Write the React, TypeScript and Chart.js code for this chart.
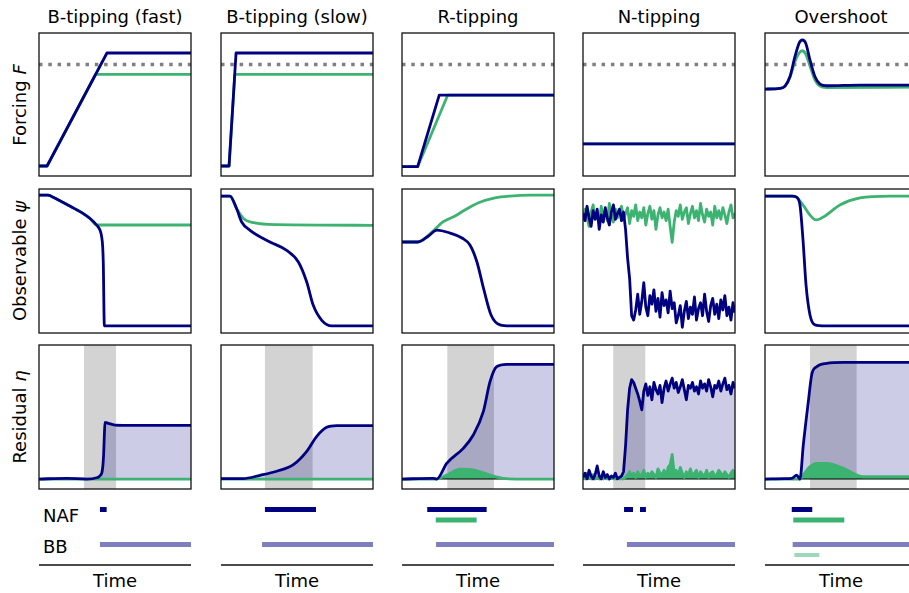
import React, { useEffect, useRef } from 'react';
import { Chart, registerables } from 'chart.js';
Chart.register(...registerables);

// ---------- DATA ----------
const titles = ['B-tipping (fast)', 'B-tipping (slow)', 'R-tipping', 'N-tipping', 'Overshoot'];
const forcingThreshold = 0.78;
const residualBase = 0.069;

// B-tipping (fast)
const bfForcingBlueT = [0, 5.3, 44.7, 100];
const bfForcingBlue = [0.07, 0.07, 0.86, 0.86];
const bfForcingGreenT = [0, 5.3, 37.2, 100];
const bfForcingGreen = [0.07, 0.07, 0.71, 0.71];
const bfObsBlueT = [0, 5.9, 8, 12.5, 18.4, 23.7, 28.9, 33.6, 37.9, 40.1, 41.2, 41.9, 42.3, 43, 100];
const bfObsBlue = [0.958, 0.958, 0.95, 0.925, 0.892, 0.862, 0.831, 0.795, 0.75, 0.715, 0.669, 0.599, 0.484, 0.049, 0.049];
const bfObsGreenT = [0, 5.9, 8, 12.5, 18.4, 23.7, 28.9, 33.6, 37.9, 100];
const bfObsGreen = [0.958, 0.958, 0.95, 0.925, 0.892, 0.862, 0.831, 0.795, 0.75, 0.75];
const bfResShade = [29.6, 50.7];
const bfResBlueT = [0, 18.2, 31.4, 37.9, 40.1, 41.7, 42.5, 43, 43.4, 45.6, 50, 62, 100];
const bfResBlue = [0.069, 0.074, 0.069, 0.078, 0.092, 0.132, 0.236, 0.375, 0.463, 0.456, 0.444, 0.442, 0.442];
const bfResGreenT = [0, 100];
const bfResGreen = [0.069, 0.069];

// B-tipping (slow)
const bsForcingBlueT = [0, 5.3, 9.9, 100];
const bsForcingBlue = [0.07, 0.07, 0.86, 0.86];
const bsForcingGreenT = [0, 5.3, 9.1, 100];
const bsForcingGreen = [0.07, 0.07, 0.71, 0.71];
const bsObsBlueT = [0, 5.9, 10.3, 13.6, 19.1, 32.2, 43.2, 50.9, 56.4, 60.7, 66.3, 72.8, 100];
const bsObsBlue = [0.951, 0.951, 0.863, 0.771, 0.713, 0.632, 0.574, 0.493, 0.354, 0.192, 0.088, 0.049, 0.049];
const bsObsGreenT = [0, 5.9, 10.3, 14.9, 21.5, 36.8, 100];
const bsObsGreen = [0.951, 0.951, 0.863, 0.794, 0.766, 0.752, 0.748];
const bsResShade = [28.9, 60.3];
const bsResBlueT = [0, 14.5, 25.7, 36.6, 47.6, 56.4, 63, 69.5, 76.1, 100];
const bsResBlue = [0.072, 0.072, 0.095, 0.123, 0.169, 0.262, 0.366, 0.428, 0.44, 0.44];
const bsResGreenT = [0, 100];
const bsResGreen = [0.069, 0.069];

// R-tipping
const rForcingBlueT = [0, 10.3, 24.5, 100];
const rForcingBlue = [0.065, 0.065, 0.566, 0.566];
const rForcingGreenT = [0, 10.3, 30.1, 100];
const rForcingGreen = [0.065, 0.065, 0.566, 0.566];
const rObsBlueT = [0, 10.5, 17, 23, 31.6, 39.5, 44.7, 49.3, 53.9, 58.6, 64.5, 71, 100];
const rObsBlue = [0.632, 0.632, 0.67, 0.715, 0.694, 0.66, 0.611, 0.493, 0.299, 0.125, 0.056, 0.049, 0.049];
const rObsGreenT = [0, 10.5, 19.7, 26.9, 34.9, 41.4, 50, 61.2, 71, 84.2, 100];
const rObsGreen = [0.632, 0.632, 0.701, 0.771, 0.813, 0.854, 0.903, 0.938, 0.951, 0.958, 0.958];
const rResShade = [29.8, 60.5];
const rResBlueT = [0, 20.4, 22.8, 29.4, 40.3, 46.9, 53.5, 57.9, 62.3, 68.9, 100];
const rResBlue = [0.069, 0.074, 0.069, 0.178, 0.282, 0.375, 0.537, 0.745, 0.849, 0.866, 0.866];
const rResGreenT = [0, 22.8, 29.4, 38.2, 46.9, 57.9, 66.7, 75, 100];
const rResGreen = [0.069, 0.069, 0.097, 0.137, 0.132, 0.097, 0.074, 0.069, 0.069];

// N-tipping (noisy series sampled on an even time grid)
const nForcingT = [0, 100];
const nForcingBlue = [0.224, 0.224];
const nForcingGreen = [0.224, 0.224];
const nObsBlue = [
  0.83, 0.78, 0.88, 0.80, 0.74, 0.85, 0.79, 0.86, 0.72, 0.82, 0.77, 0.87, 0.80, 0.75, 0.84, 0.89, 0.79, 0.83, 0.86, 0.78, 0.84,
  0.72, 0.52, 0.38, 0.12,
  0.09, 0.16, 0.27, 0.13, 0.22, 0.35, 0.18, 0.12, 0.26, 0.20, 0.30, 0.15, 0.24, 0.11, 0.28, 0.19, 0.23, 0.14, 0.29, 0.17,
  0.21, 0.07, 0.12, 0.19, 0.04, 0.15, 0.22, 0.10, 0.18, 0.13, 0.25, 0.09, 0.17, 0.21, 0.12, 0.27, 0.15, 0.08, 0.19, 0.24,
  0.13, 0.20, 0.10, 0.23, 0.16, 0.26, 0.12, 0.18, 0.09, 0.21, 0.14,
];
const nObsGreen = [
  0.78, 0.86, 0.80, 0.74, 0.84, 0.89, 0.79, 0.83, 0.76, 0.88, 0.81, 0.85, 0.78, 0.90, 0.82, 0.77, 0.86, 0.80, 0.84, 0.88,
  0.79, 0.83, 0.87, 0.76, 0.85, 0.81, 0.89, 0.78, 0.84, 0.80, 0.87, 0.75, 0.83, 0.88, 0.79, 0.85, 0.72, 0.82, 0.87, 0.80,
  0.84, 0.78, 0.86, 0.74, 0.63, 0.77, 0.85, 0.81, 0.89, 0.79, 0.84, 0.87, 0.76, 0.83, 0.88, 0.80, 0.85, 0.78, 0.90, 0.82,
  0.77, 0.86, 0.81, 0.84, 0.75, 0.88, 0.80, 0.85, 0.79, 0.87, 0.82, 0.76, 0.84, 0.89, 0.80, 0.83,
];
const nResShade = [19.9, 41];
const nResBlue = [
  0.08, 0.11, 0.07, 0.13, 0.09, 0.07, 0.10, 0.16, 0.09, 0.07, 0.12, 0.08, 0.10, 0.07, 0.09, 0.08, 0.11, 0.07, 0.08, 0.09,
  0.12, 0.30, 0.55, 0.70, 0.76, 0.74,
  0.70, 0.66, 0.61, 0.55, 0.68, 0.73, 0.65, 0.71, 0.62, 0.74, 0.69, 0.66, 0.72, 0.60, 0.70, 0.75, 0.68, 0.73, 0.77, 0.70,
  0.74, 0.67, 0.71, 0.76, 0.69, 0.62, 0.72, 0.70, 0.74, 0.68, 0.71, 0.66, 0.75, 0.70, 0.73, 0.68, 0.76, 0.71, 0.64, 0.72,
  0.70, 0.75, 0.68, 0.73, 0.77, 0.69, 0.72, 0.66, 0.74, 0.70,
];
const nResGreen = [
  0.09, 0.07, 0.11, 0.08, 0.07, 0.10, 0.07, 0.08, 0.07, 0.09, 0.07, 0.08, 0.07, 0.07, 0.08, 0.07, 0.07, 0.08, 0.07, 0.07,
  0.07, 0.08, 0.10, 0.12, 0.09, 0.11, 0.08, 0.12, 0.09, 0.10, 0.13, 0.08, 0.11, 0.09, 0.12, 0.10, 0.08, 0.14, 0.11, 0.10,
  0.13, 0.09, 0.15, 0.17, 0.24, 0.11, 0.13, 0.09, 0.15, 0.11, 0.08, 0.12, 0.10, 0.14, 0.09, 0.11, 0.13, 0.08, 0.12, 0.10,
  0.09, 0.13, 0.08, 0.11, 0.12, 0.09, 0.10, 0.13, 0.11, 0.09, 0.12, 0.10, 0.08, 0.11, 0.13, 0.10,
];
const nNoiseT = nObsBlue.map((_, i) => (i * 100) / (nObsBlue.length - 1));

// Overshoot
const oForcingBlueT = [0, 9.9, 13.2, 16.4, 19.7, 22.6, 24.5, 26.8, 29.6, 32.9, 36.2, 40.6, 62.5, 100];
const oForcingBlue = [0.608, 0.613, 0.629, 0.694, 0.834, 0.932, 0.951, 0.928, 0.811, 0.694, 0.643, 0.631, 0.636, 0.636];
const oForcingGreenT = [0, 9.9, 13.2, 16.4, 19.7, 22.6, 24.5, 26.8, 29.6, 32.9, 36.2, 40.6, 100];
const oForcingGreen = [0.608, 0.613, 0.629, 0.69, 0.8, 0.862, 0.876, 0.853, 0.769, 0.671, 0.629, 0.619, 0.622];
const oObsBlueT = [0, 18, 20.4, 23, 25, 27, 29.6, 32.9, 39.5, 100];
const oObsBlue = [0.951, 0.951, 0.945, 0.889, 0.646, 0.333, 0.125, 0.056, 0.049, 0.049];
const oObsGreenT = [0, 18, 20.4, 25, 29.6, 33.6, 39.5, 49.3, 62.5, 82.2, 100];
const oObsGreen = [0.951, 0.951, 0.945, 0.889, 0.819, 0.785, 0.813, 0.889, 0.938, 0.951, 0.951];
const oResShade = [29.6, 60.3];
const oResBlueT = [0, 13.2, 17.6, 20.9, 23, 25.2, 28.5, 30.7, 34, 40.6, 51.5, 100];
const oResBlue = [0.069, 0.072, 0.074, 0.097, 0.069, 0.306, 0.606, 0.792, 0.849, 0.873, 0.88, 0.88];
const oResGreenT = [0, 23, 25.2, 29.6, 34, 40.6, 51.5, 60.3, 64.7, 100];
const oResGreen = [0.069, 0.069, 0.097, 0.155, 0.178, 0.178, 0.144, 0.097, 0.085, 0.085];

// Detection strips (time intervals)
const stripNafLevel = 0.793;
const stripNafGreenLevel = 0.643;
const stripBbLevel = 0.293;
const stripBbGreenLevel = 0.143;
const bfNaf = [[40.1, 44.5]];
const bfBb = [[40.1, 100]];
const bsNaf = [[28.9, 62.5]];
const bsBb = [[27, 100]];
const rNaf = [[16.6, 55.7]];
const rNafGreen = [[22.2, 49.1]];
const rBb = [[22.4, 100]];
const nNaf = [[27, 32.9], [37.5, 41.4]];
const nBb = [[28.9, 100]];
const oNaf = [[17.6, 31.1]];
const oNafGreen = [[18.6, 52.2]];
const oBb = [[18.2, 100]];
const oBbGreen = [[19.3, 35.7]];

// ---------- STYLE / LAYOUT ----------
const NAVY = '#000080';
const GREEN = '#3cb371';
const LAVENDER = 'rgba(0,0,128,0.2)';
const BB_BLUE = 'rgba(0,0,128,0.5)';
const BB_GREEN = 'rgba(60,179,113,0.5)';
const COL_LEFT = [39, 221, 402, 583, 765];
const PANEL_W = 152;
const ROW_TOP = [33, 189, 345];
const ROW_H = [143, 144, 144];
const STRIP_TOP = 495;
const STRIP_H = 70;
const FONT = '"DejaVu Sans", sans-serif';
const FS = 18;

const zip = (t: number[], v: number[]) => t.map((x, i) => ({ x, y: v[i] }));

const line = (data: any[], color: string, smooth: boolean, width = 2.8) => ({
  data,
  borderColor: color,
  backgroundColor: color,
  borderWidth: width,
  pointRadius: 0,
  fill: false,
  tension: 0,
  cubicInterpolationMode: smooth ? 'monotone' : 'default',
  borderJoinStyle: 'round',
  borderCapStyle: 'butt',
});
const area = (data: any[], color: string, smooth: boolean) => ({
  data,
  borderColor: 'rgba(0,0,0,0)',
  backgroundColor: color,
  borderWidth: 0,
  pointRadius: 0,
  fill: { value: residualBase },
  tension: 0,
  cubicInterpolationMode: smooth ? 'monotone' : 'default',
});

const forcingSets = (blue: any[], green: any[], smooth: boolean) => () => [
  line(blue, NAVY, smooth),
  line(green, GREEN, smooth),
  {
    data: [{ x: 0, y: forcingThreshold }, { x: 100, y: forcingThreshold }],
    borderColor: '#808080',
    borderWidth: 3.5,
    borderDash: [3.5, 5.8],
    borderCapStyle: 'butt',
    pointRadius: 0,
    fill: false,
  },
];
const obsSets = (blue: any[], green: any[], smooth: boolean) => () => [
  line(blue, NAVY, smooth),
  line(green, GREEN, smooth),
];
const resSets = (blue: any[], green: any[], smooth: boolean) => () => [
  line(blue, NAVY, smooth),
  line(green, GREEN, smooth),
  line([{ x: 0, y: residualBase }, { x: 100, y: residualBase }], '#000000', false, 1.1),
  area(green, GREEN, smooth),
  area(blue, LAVENDER, smooth),
];
const segs = (intervals: number[][], level: number, color: string, width: number) =>
  intervals.map((iv) => ({
    data: [{ x: iv[0], y: level }, { x: iv[1], y: level }],
    borderColor: color,
    borderWidth: width,
    borderCapStyle: 'butt',
    pointRadius: 0,
    fill: false,
  }));

const columns = [
  {
    forcing: forcingSets(zip(bfForcingBlueT, bfForcingBlue), zip(bfForcingGreenT, bfForcingGreen), false),
    obs: obsSets(zip(bfObsBlueT, bfObsBlue), zip(bfObsGreenT, bfObsGreen), true),
    res: resSets(zip(bfResBlueT, bfResBlue), zip(bfResGreenT, bfResGreen), true),
    shade: bfResShade,
    strip: () => [...segs(bfNaf, stripNafLevel, NAVY, 5), ...segs(bfBb, stripBbLevel, BB_BLUE, 5)],
  },
  {
    forcing: forcingSets(zip(bsForcingBlueT, bsForcingBlue), zip(bsForcingGreenT, bsForcingGreen), false),
    obs: obsSets(zip(bsObsBlueT, bsObsBlue), zip(bsObsGreenT, bsObsGreen), true),
    res: resSets(zip(bsResBlueT, bsResBlue), zip(bsResGreenT, bsResGreen), true),
    shade: bsResShade,
    strip: () => [...segs(bsNaf, stripNafLevel, NAVY, 5), ...segs(bsBb, stripBbLevel, BB_BLUE, 5)],
  },
  {
    forcing: forcingSets(zip(rForcingBlueT, rForcingBlue), zip(rForcingGreenT, rForcingGreen), false),
    obs: obsSets(zip(rObsBlueT, rObsBlue), zip(rObsGreenT, rObsGreen), true),
    res: resSets(zip(rResBlueT, rResBlue), zip(rResGreenT, rResGreen), true),
    shade: rResShade,
    strip: () => [
      ...segs(rNaf, stripNafLevel, NAVY, 5),
      ...segs(rNafGreen, stripNafGreenLevel, GREEN, 5),
      ...segs(rBb, stripBbLevel, BB_BLUE, 5),
    ],
  },
  {
    forcing: forcingSets(zip(nForcingT, nForcingBlue), zip(nForcingT, nForcingGreen), false),
    obs: obsSets(zip(nNoiseT, nObsBlue), zip(nNoiseT, nObsGreen), false),
    res: resSets(zip(nNoiseT, nResBlue), zip(nNoiseT, nResGreen), false),
    shade: nResShade,
    strip: () => [...segs(nNaf, stripNafLevel, NAVY, 5), ...segs(nBb, stripBbLevel, BB_BLUE, 5)],
  },
  {
    forcing: forcingSets(zip(oForcingBlueT, oForcingBlue), zip(oForcingGreenT, oForcingGreen), true),
    obs: obsSets(zip(oObsBlueT, oObsBlue), zip(oObsGreenT, oObsGreen), true),
    res: resSets(zip(oResBlueT, oResBlue), zip(oResGreenT, oResGreen), true),
    shade: oResShade,
    strip: () => [
      ...segs(oNaf, stripNafLevel, NAVY, 5),
      ...segs(oNafGreen, stripNafGreenLevel, GREEN, 5),
      ...segs(oBb, stripBbLevel, BB_BLUE, 5),
      ...segs(oBbGreen, stripBbGreenLevel, BB_GREEN, 4),
    ],
  },
];

const decoPlugin = (shade: number[] | undefined, frame: boolean, axisLine: boolean) => ({
  id: 'deco',
  beforeDraw(chart: any) {
    if (!shade) return;
    const { ctx, chartArea, scales } = chart;
    const a = scales.x.getPixelForValue(shade[0]);
    const b = scales.x.getPixelForValue(shade[1]);
    ctx.save();
    ctx.fillStyle = '#d3d3d3';
    ctx.fillRect(a, chartArea.top, b - a, chartArea.bottom - chartArea.top);
    ctx.restore();
  },
  afterDraw(chart: any) {
    const { ctx, chartArea } = chart;
    ctx.save();
    ctx.strokeStyle = '#111';
    ctx.lineWidth = 1.3;
    if (frame) {
      ctx.strokeRect(chartArea.left, chartArea.top, chartArea.right - chartArea.left, chartArea.bottom - chartArea.top);
    }
    if (axisLine) {
      ctx.beginPath();
      ctx.moveTo(chartArea.left, chartArea.bottom);
      ctx.lineTo(chartArea.right, chartArea.bottom);
      ctx.stroke();
    }
    ctx.restore();
  },
});

function Panel(props: {
  left: number;
  top: number;
  width: number;
  height: number;
  make: () => any[];
  shade?: number[];
  frame?: boolean;
  axisLine?: boolean;
}) {
  const { left, top, width, height, make, shade, frame = true, axisLine = false } = props;
  const ref = useRef<HTMLCanvasElement>(null);
  const pad = 3;
  useEffect(() => {
    const chart = new Chart(ref.current as HTMLCanvasElement, {
      type: 'line',
      data: { datasets: make() as any },
      options: {
        animation: false,
        responsive: false,
        maintainAspectRatio: false,
        events: [],
        layout: { padding: pad },
        plugins: { legend: { display: false }, tooltip: { enabled: false }, title: { display: false } },
        scales: {
          x: { type: 'linear', min: 0, max: 100, display: false },
          y: { type: 'linear', min: 0, max: 1, display: false },
        },
      } as any,
      plugins: [decoPlugin(shade, frame, axisLine)],
    });
    return () => chart.destroy();
  }, []);
  return (
    <canvas
      ref={ref}
      width={width + 2 * pad}
      height={height + 2 * pad}
      style={{ position: 'absolute', left: left - pad, top: top - pad, width: width + 2 * pad, height: height + 2 * pad }}
    />
  );
}

const rowLabels = [
  ['Forcing ', 'F'],
  ['Observable ', 'ψ'],
  ['Residual ', 'η'],
];

export default function App() {
  const text = (extra: any) => ({
    position: 'absolute' as const,
    fontSize: FS,
    fontFamily: FONT,
    whiteSpace: 'nowrap' as const,
    lineHeight: 1.15,
    ...extra,
  });
  return (
    <div
      style={{
        position: 'fixed',
        left: 0,
        top: 0,
        width: 909,
        height: 593,
        overflow: 'hidden',
        background: '#ffffff',
        color: '#000',
        fontFamily: FONT,
      }}
    >
      {rowLabels.map((lb, r) => (
        <div
          key={'yl' + r}
          style={text({
            left: 20,
            top: ROW_TOP[r] + ROW_H[r] / 2,
            transform: 'translate(-50%,-50%) rotate(-90deg)',
          })}
        >
          {lb[0]}
          <span style={{ fontStyle: 'italic' }}>{lb[1]}</span>
        </div>
      ))}
      <div style={text({ left: 43, top: 516, transform: 'translateY(-50%)' })}>NAF</div>
      <div style={text({ left: 43, top: 547, transform: 'translateY(-50%)' })}>BB</div>
      {columns.map((c, i) => (
        <React.Fragment key={i}>
          <div style={text({ left: COL_LEFT[i] + PANEL_W / 2, top: 16.5, transform: 'translate(-50%,-50%)' })}>
            {titles[i]}
          </div>
          <Panel left={COL_LEFT[i]} top={ROW_TOP[0]} width={PANEL_W} height={ROW_H[0]} make={c.forcing} />
          <Panel left={COL_LEFT[i]} top={ROW_TOP[1]} width={PANEL_W} height={ROW_H[1]} make={c.obs} />
          <Panel left={COL_LEFT[i]} top={ROW_TOP[2]} width={PANEL_W} height={ROW_H[2]} make={c.res} shade={c.shade} />
          <Panel
            left={COL_LEFT[i]}
            top={STRIP_TOP}
            width={PANEL_W}
            height={STRIP_H}
            make={c.strip}
            frame={false}
            axisLine={true}
          />
          <div style={text({ left: COL_LEFT[i] + PANEL_W / 2, top: 581, transform: 'translate(-50%,-50%)' })}>Time</div>
        </React.Fragment>
      ))}
    </div>
  );
}
